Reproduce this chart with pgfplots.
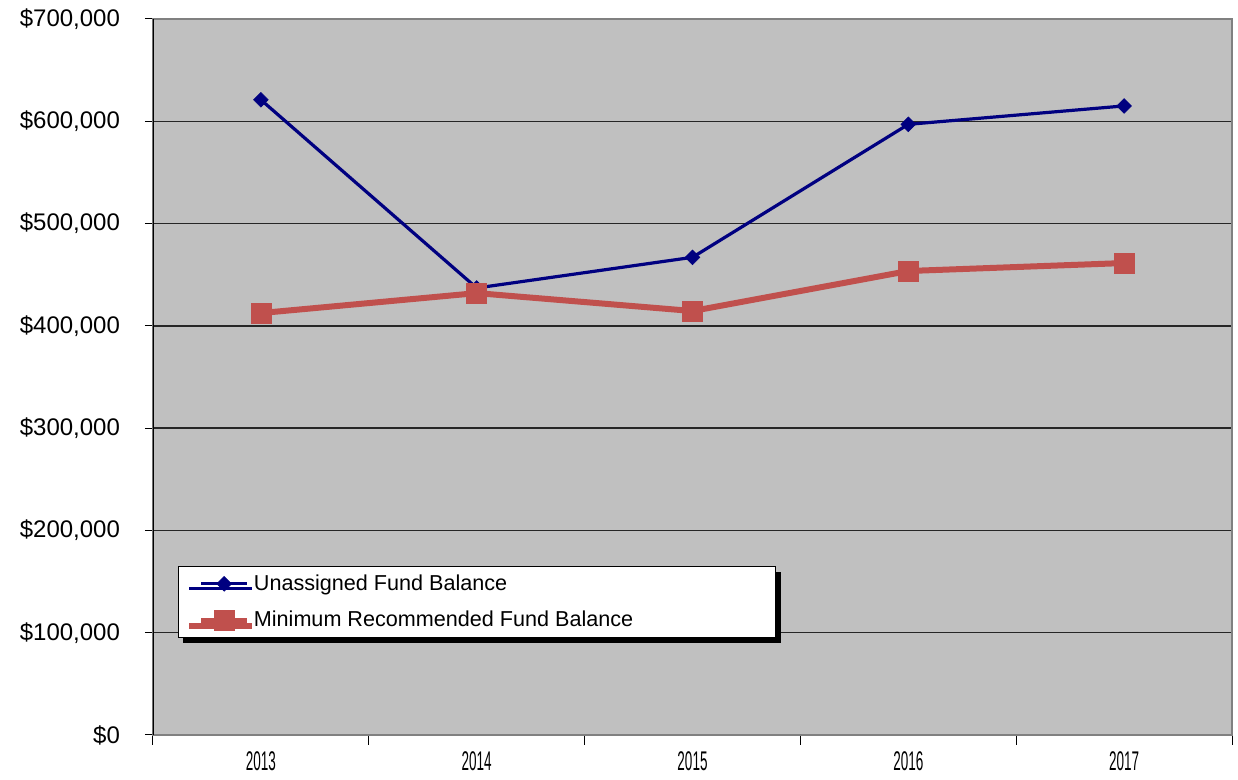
\documentclass[border=0pt]{standalone}
\usepackage{pgfplots}
\pgfplotsset{compat=1.18}
\usepackage{fontspec}
\setmainfont{Liberation Sans}
\usetikzlibrary{calc,shadows}
\definecolor{navyline}{HTML}{000080}
\definecolor{redline}{HTML}{C0504D}
\definecolor{plotbg}{HTML}{C0C0C0}
\definecolor{frame}{HTML}{808080}
\newcommand{\xl}[1]{\scalebox{0.5}[1]{#1}}
\begin{document}
\begin{tikzpicture}
\begin{axis}[
  scale only axis,
  width=539.5pt, height=358pt,
  xmin=-0.5, xmax=4.5,
  ymin=0, ymax=700000,
  axis background/.style={fill=plotbg},
  axis line style={draw=frame, line width=1pt},
  xtick={0,1,2,3,4},
  xticklabels={\xl{2013},\xl{2014},\xl{2015},\xl{2016},\xl{2017}},
  minor xtick={-0.5,0.5,1.5,2.5,3.5,4.5},
  major x tick style={draw=none},
  minor x tick style={draw=black, line width=0.5pt},
  minor tick length=5pt,
  xtick pos=bottom,
  ytick={0,100000,...,700000},
  yticklabels={{\$0},{\$100,000},{\$200,000},{\$300,000},{\$400,000},{\$500,000},{\$600,000},{\$700,000}},
  ytick pos=left,
  major tick length=4pt,
  tick align=outside,
  tick style={black, line width=0.5pt},
  ymajorgrids,
  major grid style={black!85, line width=0.7pt},
  /pgf/number format/assume math mode=true,
  yticklabel style={font=\fontsize{12}{14}\selectfont, xshift=-9pt},
  xticklabel style={font=\fontsize{13.5}{15}\selectfont, yshift=-1pt},
  legend cell align=left,
  legend style={at={(0.023,0.135)}, anchor=south west, draw=black, line width=0.5pt, fill=white,
    font=\fontsize{10.8}{12}\selectfont, row sep=5pt,
    drop shadow={shadow xshift=2.5pt, shadow yshift=-2.5pt, fill=black, opacity=1}},
  legend image code/.code={\path[draw=none] (-0.3cm,0) -- (0.8cm,0); \draw[mark repeat=2,mark phase=2] plot coordinates {(0cm,0cm)(0.4cm,0cm)(0.8cm,0cm)};},
]
\addplot[navyline, line width=1.6pt, mark=square*, mark size=2.6pt, mark options={solid, fill=navyline, rotate=45, line width=0.3pt}]
  coordinates {(0,621000) (1,437000) (2,467000) (3,597000) (4,615000)};
\addlegendentry{\makebox[256pt][l]{Unassigned Fund Balance}}
\addplot[redline, line width=3pt, mark=square*, mark size=5pt, mark options={solid, fill=redline, line width=0.3pt}]
  coordinates {(0,412500) (1,432000) (2,414500) (3,453600) (4,461400)};
\addlegendentry{\makebox[256pt][l]{Minimum Recommended Fund Balance}}
\draw[black, line width=1pt] (rel axis cs:0,0) -- (rel axis cs:0,1);
\end{axis}
\pgfresetboundingbox
\path[use as bounding box] ($(current axis.south west)+(-76.5pt,-22.5pt)$) rectangle ($(current axis.north east)+(3pt,9.5pt)$);
\end{tikzpicture}
\end{document}
